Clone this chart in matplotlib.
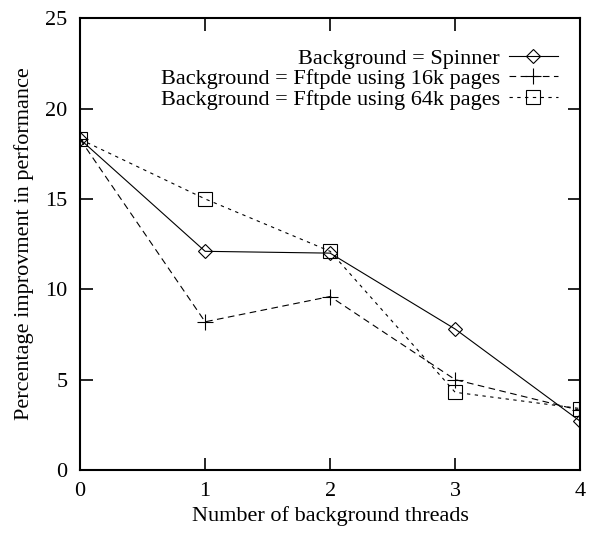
import matplotlib
matplotlib.use("Agg")
import matplotlib.pyplot as plt

threads = [0, 1, 2, 3, 4]
spinner = [18.3, 12.1, 12.0, 7.8, 2.7]
fft_16k = [18.3, 8.2, 9.6, 5.0, 3.3]
fft_64k = [18.3, 15.0, 12.1, 4.3, 3.4]

plt.rcParams["font.family"] = ["Liberation Serif", "DejaVu Serif"]
plt.rcParams["font.size"] = 16

fig = plt.figure(figsize=(5.89, 5.35), dpi=100)
ax = fig.add_axes([0.136, 0.1215, 0.849, 0.8445])

ax.plot(threads, spinner, color="black", lw=0.8, ls="-", marker="D",
        mfc="none", mec="black", ms=7, mew=0.8, label="Background = Spinner")
ax.plot(threads, fft_16k, color="black", lw=0.8, ls=(0, (6, 4)), marker="+",
        ms=11, mew=0.8, label="Background = Fftpde using 16k pages")
ax.plot(threads, fft_64k, color="black", lw=0.8, ls=(0, (3, 4)), marker="s",
        mfc="none", mec="black", ms=10, mew=0.8, label="Background = Fftpde using 64k pages")

ax.set_xlim(0, 4)
ax.set_ylim(0, 25)
ax.set_xticks([0, 1, 2, 3, 4])
ax.set_yticks([0, 5, 10, 15, 20, 25])
ax.tick_params(direction="in", top=True, right=True, length=9, width=1.2, pad=9)
for s in ax.spines.values():
    s.set_linewidth(1.5)

ax.set_xlabel("Number of background threads", labelpad=3)
ax.set_ylabel("Percentage improvment in performance", labelpad=8)

ax.legend(loc="upper right", bbox_to_anchor=(0.955, 0.934), frameon=False,
          markerfirst=False, handlelength=2.2, handletextpad=0.4,
          labelspacing=0.0, borderaxespad=0, borderpad=0)

fig.savefig("out.png", dpi=100)
